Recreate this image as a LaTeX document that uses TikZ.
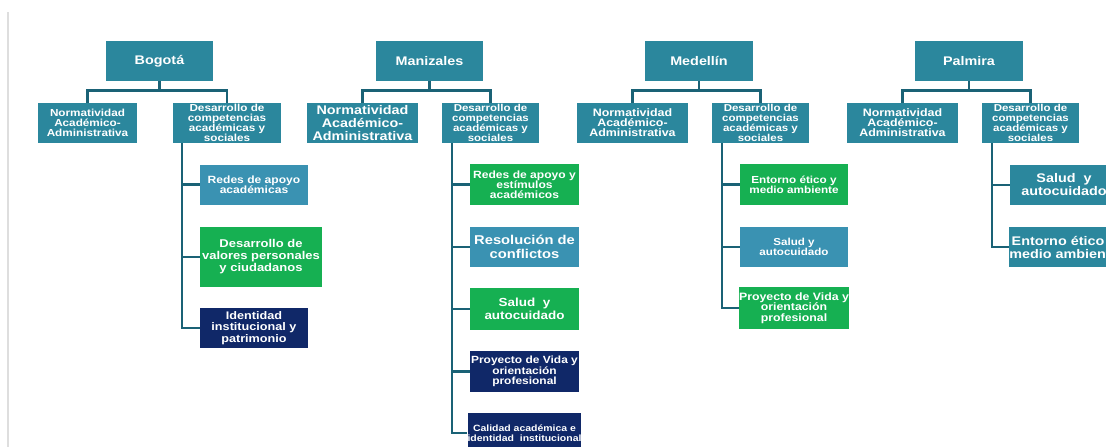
\documentclass[tikz,border=0pt]{standalone}
\usepackage{fontspec}
\setmainfont{Liberation Sans}[FakeStretch=1.15]
\definecolor{cteal}{RGB}{43,135,157}
\definecolor{clblue}{RGB}{58,146,178}
\definecolor{cgreen}{RGB}{22,176,82}
\definecolor{cnavy}{RGB}{16,40,104}
\definecolor{cline}{RGB}{26,98,118}
\definecolor{cedge}{RGB}{222,222,222}
\begin{document}
\begin{tikzpicture}[x=1pt,y=-1pt,
  box/.style={text=white, align=center, inner sep=0pt, minimum height=40pt, minimum width=108pt},
  tealbox/.style={box, fill=cteal},
  lbluebox/.style={box, fill=clblue},
  greenbox/.style={box, fill=cgreen},
  navybox/.style={box, fill=cnavy},
  fsz/.style 2 args={font=\fontsize{#1}{#2}\selectfont\bfseries},
  conn/.style={draw=cline, line width=2.6pt},
  tick/.style={draw=cline, line width=2.6pt}]
\fill[white] (0,0) rectangle (1106,447);
\useasboundingbox (0,0) rectangle (1106,447);
\clip (0,0) rectangle (1106,447);
\draw[cedge, line width=2pt] (8,12) -- (8,447);

% ---------- Bogota
\node[tealbox, minimum width=107pt, fsz={12.5}{13}] (bog) at (159.5,61) {Bogotá};
\node[tealbox, minimum width=99pt, fsz={10.2}{10}] (bnorm) at (87.5,123) {Normatividad\\Académico-\\Administrativa};
\node[tealbox, minimum width=108pt, fsz={10.2}{9.8}] (bdes) at (227,123) {Desarrollo de\\competencias\\académicas y\\sociales};
\node[lbluebox, fsz={10.5}{10.5}] (bred) at (254,184.5) {Redes de apoyo\\académicas};
\node[greenbox, minimum width=122pt, minimum height=60pt, fsz={11.3}{12}] (bval) at (261,257) {Desarrollo de\\valores personales\\y ciudadanos};
\node[navybox, fsz={11}{11.5}] (bide) at (254,328) {Identidad\\institucional y\\patrimonio};
\draw[conn] (bog.south) -- ++(0,9) -| (bnorm.north);
\draw[conn] (bog.south) -- ++(0,9) -| (bdes.north);
\coordinate (bt) at (182,143);
\draw[tick] (bt) |- (bred.west);
\draw[tick] (bt) |- (bval.west);
\draw[tick] (bt) |- (bide.west);

% ---------- Manizales
\node[tealbox, minimum width=107pt, fsz={12.5}{13}] (man) at (429.5,61) {Manizales};
\node[tealbox, minimum width=111pt, fsz={12.5}{13.2}] (mnorm) at (362.5,123) {Normatividad\\Académico-\\Administrativa};
\node[tealbox, minimum width=97pt, fsz={10}{9.8}] (mdes) at (490.5,123) {Desarrollo de\\competencias\\académicas y\\sociales};
\node[greenbox, minimum width=109pt, minimum height=41pt, fsz={10.5}{10}] (mred) at (524.5,184.5) {Redes de apoyo y\\estímulos\\académicos};
\node[lbluebox, minimum width=109pt, fsz={12.8}{14}] (mres) at (524.5,247) {Resolución de\\conflictos};
\node[greenbox, minimum width=109pt, minimum height=42pt, fsz={11.7}{12.5}] (msal) at (524.5,309) {Salud~ y\\autocuidado};
\node[navybox, minimum width=109pt, minimum height=41pt, fsz={10.4}{10.5}] (mpro) at (524.5,371.5) {Proyecto de Vida y\\orientación\\profesional};
\node[navybox, minimum width=109pt, fsz={9.1}{9.5}] (mcal) at (524.5,433) {Calidad académica e\\identidad~ institucional};
\draw[conn] (man.south) -- ++(0,9) -| (mnorm.north);
\draw[conn] (man.south) -- ++(0,9) -| (mdes.north);
\coordinate (mt) at (452,143);
\draw[tick] (mt) |- (mred.west);
\draw[tick] (mt) |- (mres.west);
\draw[tick] (mt) |- (msal.west);
\draw[tick] (mt) |- (mpro.west);
\draw[tick] (mt) |- (mcal.west);

% ---------- Medellin
\node[tealbox, minimum width=108pt, fsz={12.5}{13}] (med) at (699,61) {Medellín};
\node[tealbox, minimum width=111pt, fsz={10.8}{10}] (dnorm) at (632.5,123) {Normatividad\\Académico-\\Administrativa};
\node[tealbox, minimum width=97pt, fsz={10}{9.8}] (ddes) at (760.5,123) {Desarrollo de\\competencias\\académicas y\\sociales};
\node[greenbox, minimum height=41pt, fsz={10.2}{10}] (dent) at (794,184.5) {Entorno ético y\\medio ambiente};
\node[lbluebox, fsz={10.1}{10}] (dsal) at (794,247) {Salud y\\autocuidado};
\node[greenbox, minimum height=42pt, fsz={10.7}{10.5}] (dpro) at (794,308) {Proyecto de Vida y\\orientación\\profesional};
\draw[conn] (med.south) -- ++(0,9) -| (dnorm.north);
\draw[conn] (med.south) -- ++(0,9) -| (ddes.north);
\coordinate (dt) at (722,143);
\draw[tick] (dt) |- (dent.west);
\draw[tick] (dt) |- (dsal.west);
\draw[tick] (dt) |- (dpro.west);

% ---------- Palmira
\node[tealbox, minimum width=108pt, fsz={12.5}{13}] (pal) at (969,61) {Palmira};
\node[tealbox, minimum width=111pt, fsz={10.8}{10}] (pnorm) at (902.5,123) {Normatividad\\Académico-\\Administrativa};
\node[tealbox, minimum width=97pt, fsz={10}{9.8}] (pdes) at (1030.5,123) {Desarrollo de\\competencias\\académicas y\\sociales};
\node[tealbox, fsz={12.5}{13}] (psal) at (1064,185) {Salud~ y\\autocuidado};
\node[tealbox, fsz={12.5}{13}] (pent) at (1064,247) {Entorno ético y\\medio ambiente};
\draw[conn] (pal.south) -- ++(0,9) -| (pnorm.north);
\draw[conn] (pal.south) -- ++(0,9) -| (pdes.north);
\coordinate (pt) at (992,143);
\draw[tick] (pt) |- (psal.west);
\draw[tick] (pt) |- (pent.west);
\end{tikzpicture}
\end{document}
